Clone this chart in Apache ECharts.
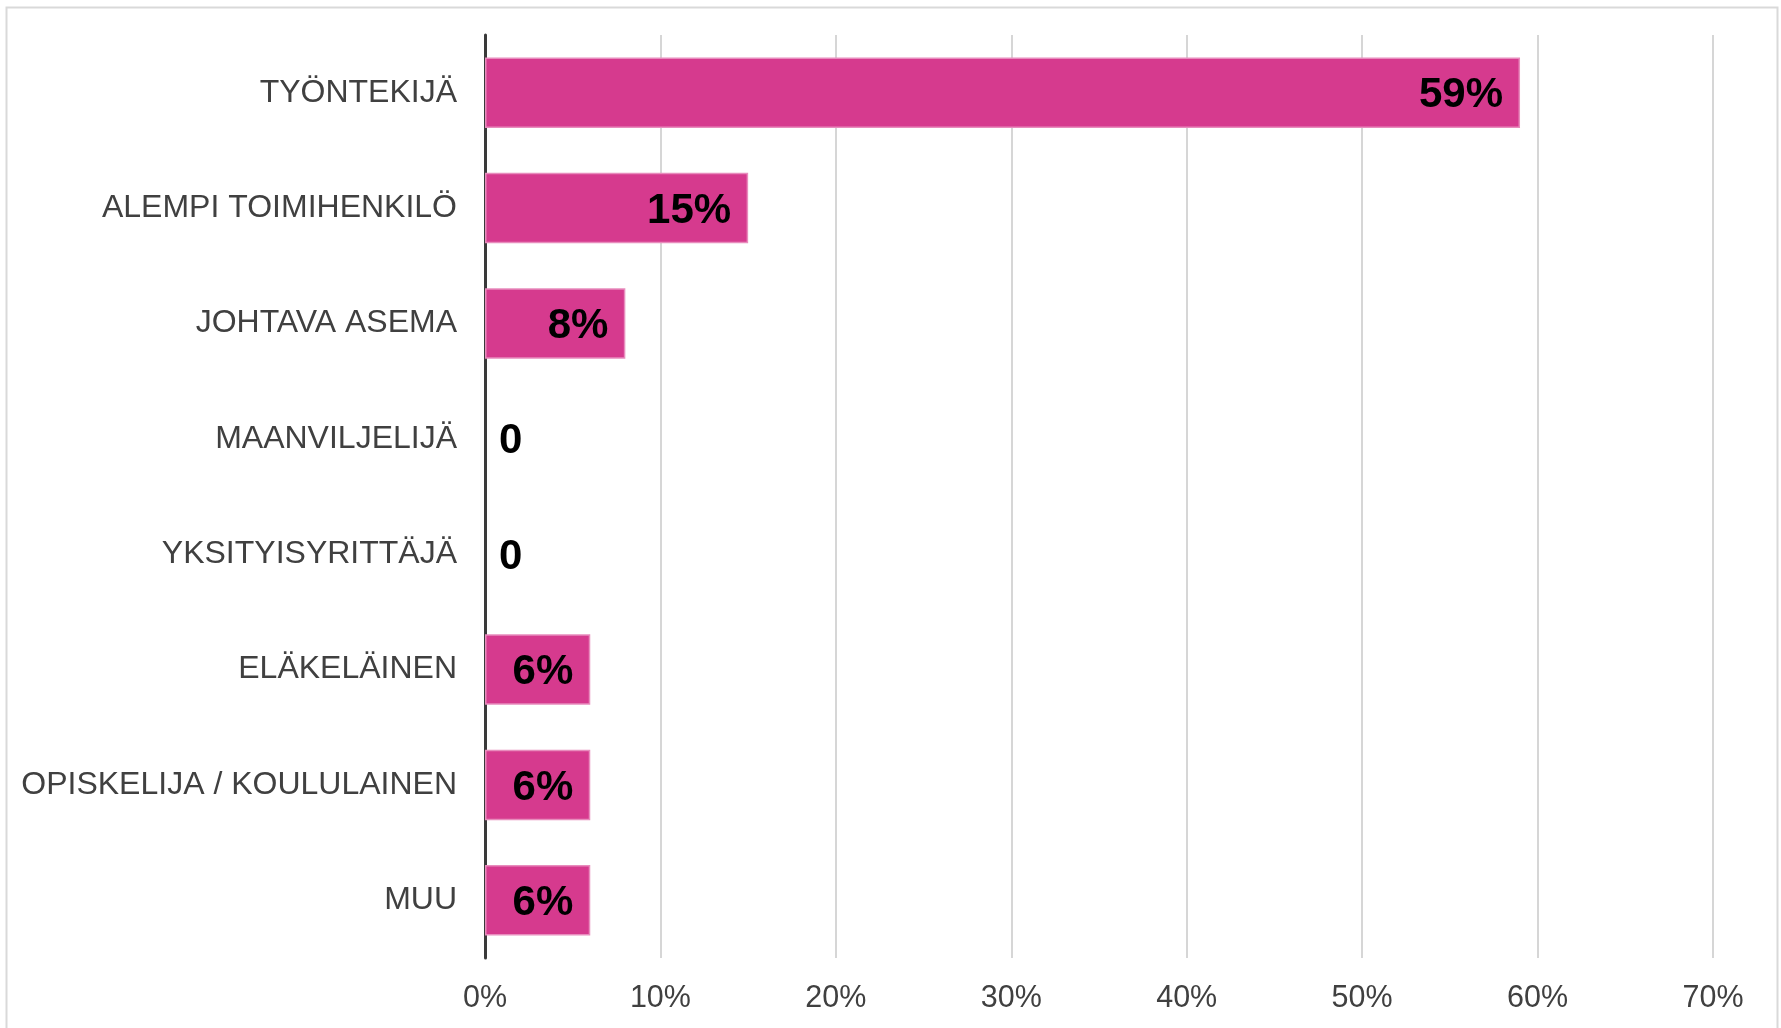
<!DOCTYPE html>
<html>
<head>
<meta charset="utf-8">
<script src="https://cdn.jsdelivr.net/npm/echarts@6/dist/echarts.min.js"></script>
<style>
html,body{margin:0;padding:0;background:#fff;}
#chart{width:1781px;height:1028px;}
</style>
</head>
<body>
<div id="chart"></div>
<script>
const categories = ['TYÖNTEKIJÄ','ALEMPI TOIMIHENKILÖ','JOHTAVA ASEMA','MAANVILJELIJÄ','YKSITYISYRITTÄJÄ','ELÄKELÄINEN','OPISKELIJA / KOULULAINEN','MUU'];
const values = [59, 15, 8, 0, 0, 6, 6, 6];
const tickMax = 70;
const tickStep = 10;

const FONT = '"Liberation Sans", Arial, sans-serif';
const chart = echarts.init(document.getElementById('chart'));
const seriesData = values.map(v => v === 0
  ? { value: v, itemStyle: { borderWidth: 0, color: 'rgba(0,0,0,0)' }, label: { position: 'right', distance: 14 } }
  : { value: v });

chart.setOption({
  animation: false,
  backgroundColor: '#ffffff',
  graphic: [{
    type: 'rect',
    left: 4, top: 5,
    shape: { width: 1771, height: 1100 },
    style: { fill: 'none', stroke: '#d9d9d9', lineWidth: 2 },
    silent: true, z: -1
  }],
  grid: { left: 485, right: 68, top: 35, bottom: 70 },
  xAxis: {
    type: 'value', min: 0, max: tickMax, interval: tickStep,
    axisLine: { show: false },
    axisTick: { show: false },
    splitLine: { show: true, lineStyle: { color: '#c8c8c8', width: 1.5 } },
    axisLabel: { formatter: '{value}%', color: '#404040', fontSize: 30.5, fontFamily: FONT, margin: 25 }
  },
  yAxis: {
    type: 'category', data: categories, inverse: true,
    axisLine: { show: true, lineStyle: { color: '#3a3a3a', width: 3 } },
    axisTick: { show: false },
    axisLabel: { color: '#404040', fontSize: 32, fontFamily: FONT, margin: 28, padding: [5, 0, 0, 0] }
  },
  series: [{
    type: 'bar',
    data: seriesData,
    barCategoryGap: '39%',
    itemStyle: { color: '#D63A8E', borderColor: '#E88CBD', borderWidth: 1.5 },
    label: {
      show: true, position: 'insideRight', distance: 17, offset: [0, 3],
      formatter: p => p.value === 0 ? '0' : p.value + '%',
      color: '#000', fontSize: 42, fontWeight: 'bold', fontFamily: FONT
    },
    z: 3
  }]
});
</script>
</body>
</html>
